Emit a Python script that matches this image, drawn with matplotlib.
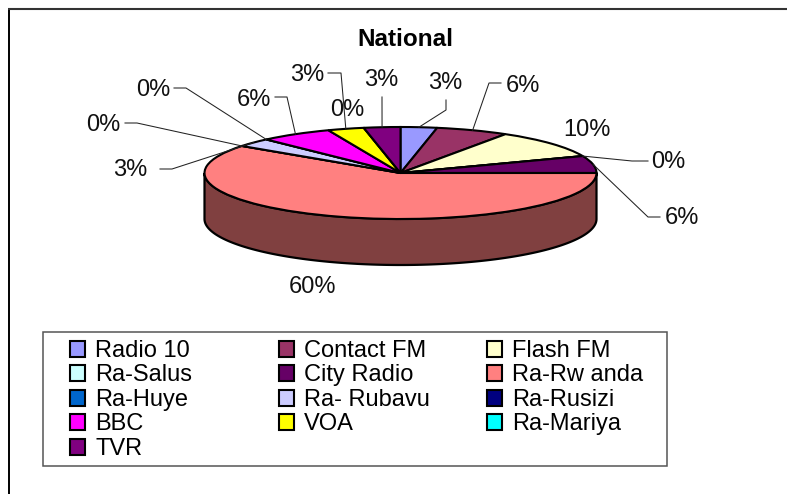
import numpy as np
import matplotlib
matplotlib.use("Agg")
import matplotlib.pyplot as plt
from matplotlib.patches import Rectangle

plt.rcParams['font.family'] = ['Liberation Sans', 'DejaVu Sans']

# data
stations = ["Radio 10", "Contact FM", "Flash FM", "Ra-Salus", "City Radio", "Ra-Rw anda",
            "Ra-Huye", "Ra- Rubavu", "Ra-Rusizi", "BBC", "VOA", "Ra-Mariya", "TVR"]
shares = [3, 6, 10, 0, 6, 60, 0, 3, 0, 6, 3, 0, 3]

# styles
colors = ["#9999FF", "#993366", "#FFFFCC", "#CCFFFF", "#660066", "#FF8080",
          "#0066CC", "#CCCCFF", "#000080", "#FF00FF", "#FFFF00", "#00FFFF", "#800080"]
side_color = "#804040"

# layout, in pixels from the top left corner
W, H = 787, 494
CX, CY, RX, RY, DEPTH = 400.5, 173.0, 196.0, 46.0, 46.0
label_pos = [(445, 83), (523, 86), (587, 130), (668, 162), (682, 218), (312, 287),
             (103, 125), (130, 170), (153, 90), (254, 100), (307, 75), (347, 110), (381, 80)]
# leader path from the label to the wedge; None means no leader
leader_pts = [[(446, 100), (446, 110)], [(501, 83), (489, 83)], None,
              [(648, 161), (632, 161)], [(660, 217), (648, 217)], None,
              [(125, 123), (137, 123)], [(160, 169), (172, 169)], [(174, 88), (186, 88)],
              [(275, 97), (287, 97)], [(328, 73), (341, 73)], None, [(382, 97), (382, 99)]]
legend_box = (43, 332, 624, 134)
legend_cols = [70, 279, 487]
legend_top = 340

fig = plt.figure(figsize=(W / 100, H / 100), dpi=100, facecolor="white")

# pie axes: one data unit is RX pixels across and RY pixels down
ax = fig.add_axes([0, 0, 1, 1])
wedges, _ = ax.pie(shares, colors=colors, startangle=90, counterclock=False, radius=1,
                   wedgeprops=dict(edgecolor="black", linewidth=1.5, zorder=3))
ax.set_aspect("auto")
ax.set_xlim(-CX / RX, (W - CX) / RX)
ax.set_ylim(-(H - CY) / RY, CY / RY)
ax.set_axis_off()

# side wall of the tilted pie: the front half of the rim
t = np.radians(np.linspace(90, 270, 181))
rim_x, rim_y = np.sin(t), np.cos(t)
d = DEPTH / RY
ax.fill(np.r_[rim_x, rim_x[::-1]], np.r_[rim_y, rim_y[::-1] - d],
        facecolor=side_color, edgecolor="black", linewidth=1.6, zorder=1)

# overlay in pixel coordinates
ov = fig.add_axes([0, 0, 1, 1], facecolor="none")
ov.set_xlim(0, W)
ov.set_ylim(H, 0)
ov.set_axis_off()

ov.plot([8.5, 8.5], [10, H], color="black", lw=1.4, solid_capstyle="butt")
ov.plot([8, W], [9.5, 9.5], color="#333333", lw=1.5, solid_capstyle="butt")

ov.text(405, 40, "National", ha="center", va="center", fontsize=17.5, fontweight="bold")

cum = np.cumsum(shares, dtype=float)
mid = (cum - np.array(shares) / 2) / cum[-1] * 2 * np.pi
for share, (lx, ly), pts, m in zip(shares, label_pos, leader_pts, mid):
    ov.text(lx, ly, f"{share}%", ha="center", va="center", fontsize=17, color="#111111")
    if pts is not None:
        xs = [p[0] for p in pts] + [CX + RX * np.sin(m)]
        ys = [p[1] for p in pts] + [CY - RY * np.cos(m)]
        ov.plot(xs, ys, color="#222222", lw=0.75)

# legend frame, then one frameless legend per column so the columns sit on a fixed grid
bx, by, bw, bh = legend_box
ov.add_patch(Rectangle((bx, by), bw, bh, facecolor="white", edgecolor="#555555", linewidth=1.1))
for col, x0 in enumerate(legend_cols):
    idx = list(range(col, len(stations), 3))
    leg = fig.legend([wedges[i] for i in idx], [stations[i] for i in idx],
                     loc="upper left", bbox_to_anchor=(x0 / W, 1 - legend_top / H),
                     borderaxespad=0, borderpad=0, fontsize=17, frameon=False,
                     handlelength=0.65, handleheight=0.65, handletextpad=0.42,
                     labelspacing=0.105)
    for h in leg.legend_handles:
        h.set_linewidth(1.5)
        h.set_edgecolor("black")

fig.savefig("out.png", dpi=100, facecolor="white")
